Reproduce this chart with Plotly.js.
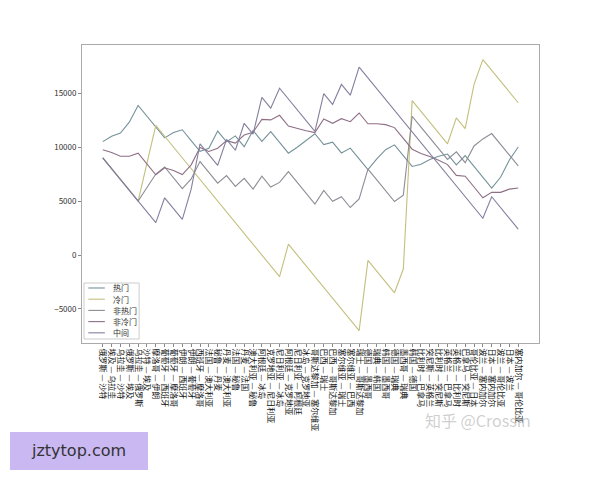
<!DOCTYPE html>
<html>
<head>
<meta charset="utf-8">
<script src="https://cdn.plot.ly/plotly-3.0.1.min.js"></script>
<style>
html,body{margin:0;padding:0;background:#fff;}
#chart{width:600px;height:480px;}
</style>
</head>
<body>
<div id="chart"></div>
<script>
var matches = [
 "俄罗斯 — 沙特","埃及 — 乌拉圭","乌拉圭 — 沙特","俄罗斯 — 埃及","乌拉圭 — 俄罗斯","沙特 — 埃及",
 "摩洛哥 — 伊朗","葡萄牙 — 西班牙","葡萄牙 — 摩洛哥","伊朗 — 西班牙","伊朗 — 葡萄牙","西班牙 — 摩洛哥",
 "法国 — 澳大利亚","秘鲁 — 丹麦","丹麦 — 澳大利亚","法国 — 秘鲁","丹麦 — 法国","澳大利亚 — 秘鲁",
 "阿根廷 — 冰岛","克罗地亚 — 尼日利亚","尼日利亚 — 冰岛","阿根廷 — 克罗地亚","尼日利亚 — 阿根廷","冰岛 — 克罗地亚",
 "哥斯达黎加 — 塞尔维亚","巴西 — 瑞士","巴西 — 哥斯达黎加","塞尔维亚 — 瑞士","塞尔维亚 — 巴西","瑞士 — 哥斯达黎加",
 "德国 — 墨西哥","瑞典 — 韩国","韩国 — 墨西哥","德国 — 瑞典","墨西哥 — 瑞典","韩国 — 德国",
 "比利时 — 巴拿马","突尼斯 — 英格兰","比利时 — 突尼斯","英格兰 — 巴拿马","英格兰 — 比利时","巴拿马 — 突尼斯",
 "哥伦比亚 — 日本","波兰 — 塞内加尔","日本 — 塞内加尔","波兰 — 哥伦比亚","日本 — 波兰","塞内加尔 — 哥伦比亚"
];
var matchIndex = matches.map(function(m, i){ return i; });

var yTickVals = [-5000, 0, 5000, 10000, 15000];
var yTickText = ["−5000", "0", "5000", "10000", "15000"];

var hot = [10500,11000,11300,12300,13850,12850,11850,10850,11350,11600,10600,9600,
 9880,11480,10480,11030,10030,11530,10530,11430,10430,9430,9980,10580,
 11230,10230,10450,9450,9900,8900,7900,8900,9750,10200,9200,8200,
 8400,8850,9150,9350,8350,9200,8200,7200,6200,7200,8800,10000];
var cold = [9000,8000,7000,6000,5000,8500,12000,11000,10000,9000,8000,7000,
 6000,5000,4000,3000,2000,1000,0,-1000,-2000,1000,0,-1000,
 -2000,-3000,-4000,-5000,-6000,-7000,-500,-1500,-2500,-3500,-1300,14300,
 13300,12300,11300,10300,12700,11700,15800,18100,17100,16100,15100,14100];
var notHot = [9000,8000,7000,6000,5000,6250,7500,8150,7150,6150,7050,8650,
 7650,6650,7350,6350,7100,6100,7300,6300,6725,7725,6725,5725,
 4725,5975,4975,5400,4400,5200,7950,6950,5950,4950,5550,12850,
 11850,10850,9850,8850,9550,8550,10100,10750,11250,10250,9250,8250];
var notCold = [9750,9500,9150,9150,9425,8425,7425,8075,7825,7450,8350,9950,
 9590,9890,10590,10365,11115,11365,12565,12515,12940,11940,11715,11515,
 11340,12590,12200,12625,12350,13150,12150,12150,12075,11800,10800,9800,
 9400,9125,8775,8375,7375,7300,6300,5300,5800,5800,6100,6200];
var middle = [9000,8000,7000,6000,5000,4000,3000,5300,4300,3300,6100,10300,
 9300,8300,10700,9700,12200,11200,14600,13600,15450,14450,13450,12450,
 11450,14950,13950,15800,14800,17400,16400,15400,14400,13400,12400,11400,
 10400,9400,8400,7400,6400,5400,4400,3400,5400,4400,3400,2400];

var names = ["热门","冷门","非热门","非冷门","中间"];
var series = [hot, cold, notHot, notCold, middle];
var colors = ["#74929a","#c4bf7e","#8c8d96","#8e6f86","#857f9e"];

var traces = series.map(function(s, k){
  return {x: matchIndex, y: s, type: "scatter", mode: "lines", name: names[k],
          line: {color: colors[k], width: 1.1}};
});

// compact matplotlib-style legend, lower left of the axes
var shapes = [{type: "rect", xref: "paper", yref: "paper", x0: 0.0044, x1: 0.125, y0: 0.0134, y1: 0.2013,
               fillcolor: "rgba(255,255,255,0.9)", line: {color: "#cccccc", width: 1}}];
var annotations = [];
names.forEach(function(n, k){
  var yy = 0.1846 - k * 0.0376;
  shapes.push({type: "line", xref: "paper", yref: "paper", x0: 0.0138, x1: 0.05, y0: yy, y1: yy,
               line: {color: colors[k], width: 1.1}});
  annotations.push({xref: "paper", yref: "paper", x: 0.066, y: yy, xanchor: "left", yanchor: "middle",
                    text: n, showarrow: false, borderpad: 0, font: {size: 8, color: "#333"}});
});
// page watermarks seen in the reference
shapes.push({type: "rect", xref: "paper", yref: "paper", x0: -0.1576, x1: 0.1444, y0: -0.426, y1: -0.2987,
             fillcolor: "#c9b8f2", line: {width: 0}});
annotations.push({xref: "paper", yref: "paper", x: -0.0066, y: -0.362, xanchor: "center", yanchor: "middle",
                  text: "jztytop.com", showarrow: false,
                  font: {size: 16, color: "#333", family: "DejaVu Sans, sans-serif"}});
annotations.push({xref: "paper", yref: "paper", x: 0.866, y: -0.258, xanchor: "center", yanchor: "middle",
                  text: "知乎 @Crossin", showarrow: false,
                  font: {size: 16, color: "rgba(175,175,175,0.6)"}});

var layout = {
  width: 600, height: 480,
  margin: {l: 82, r: 61, t: 45, b: 137},
  paper_bgcolor: "#fff", plot_bgcolor: "#fff",
  font: {family: "Noto Sans CJK SC, DejaVu Sans, sans-serif", color: "#333", size: 8},
  showlegend: false,
  xaxis: {range: [-2.35, 49.35], tickangle: 90,
          tickmode: "array", tickvals: matchIndex, ticktext: matches,
          showgrid: false, zeroline: false, showline: true, mirror: true,
          linecolor: "#aaa", linewidth: 1, ticks: "outside", ticklen: 3, tickcolor: "#888",
          tickfont: {size: 8, color: "#111"}, automargin: false},
  yaxis: {range: [-8150, 19450], tickmode: "array", tickvals: yTickVals, ticktext: yTickText,
          showgrid: false, zeroline: false, showline: true, mirror: true,
          linecolor: "#aaa", linewidth: 1, ticks: "outside", ticklen: 3, tickcolor: "#888",
          tickfont: {size: 8, color: "#333"}, automargin: false},
  shapes: shapes,
  annotations: annotations
};

Plotly.newPlot("chart", traces, layout, {displayModeBar: false, staticPlot: true});
</script>
</body>
</html>
